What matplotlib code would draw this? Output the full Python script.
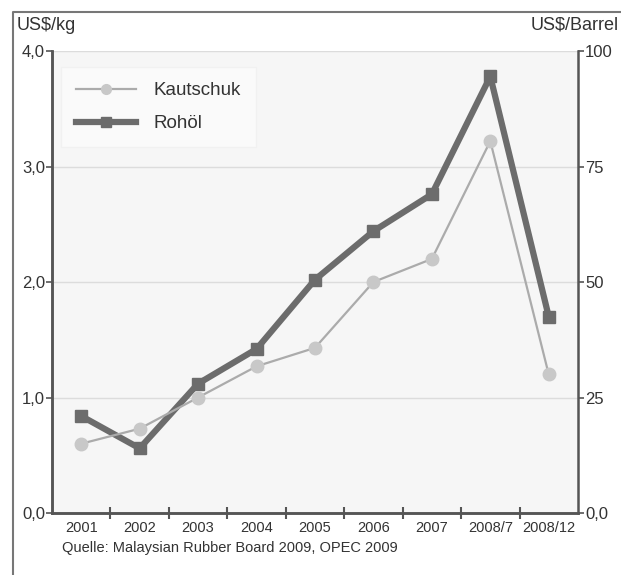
import matplotlib.pyplot as plt
from matplotlib.lines import Line2D

plt.rcParams['font.family'] = ['Liberation Sans', 'DejaVu Sans']

# Daten
jahre = ['2001', '2002', '2003', '2004', '2005', '2006', '2007', '2008/7', '2008/12']
kautschuk = [0.60, 0.73, 1.00, 1.27, 1.43, 2.00, 2.20, 3.22, 1.20]   # US$/kg
rohoel = [21.0, 14.0, 28.0, 35.5, 50.5, 61.0, 69.0, 94.5, 42.5]      # US$/Barrel
links_ticks = [0, 1, 2, 3, 4]
links_labels = ['0,0', '1,0', '2,0', '3,0', '4,0']
rechts_ticks = [0, 25, 50, 75, 100]
rechts_labels = ['0,0', '25', '50', '75', '100']

c_kau = '#ababab'
c_kau_m = '#c8c8c8'
c_roh = '#6c6c6c'
c_axis = '#555555'
c_text = '#333333'

fig = plt.figure(figsize=(6.21, 5.75), dpi=100)
ax = fig.add_axes([0.0837, 0.1078, 0.847, 0.8035])
ax2 = ax.twinx()
ax.set_zorder(ax2.get_zorder() + 1)
ax.patch.set_visible(False)
ax2.patch.set_visible(True)
ax2.set_facecolor('#f6f6f6')

x = list(range(len(jahre)))

ax2.plot(x, rohoel, color=c_roh, lw=4.5, marker='s', ms=8.5, mfc=c_roh, mec=c_roh)
ax.plot(x, kautschuk, color=c_kau, lw=1.6, marker='o', ms=9, mfc=c_kau_m, mec=c_kau_m)

ax.set_ylim(0, 4)
ax2.set_ylim(0, 100)
ax.set_xlim(-0.5, len(jahre) - 0.5)

ax.set_yticks(links_ticks)
ax.set_yticklabels(links_labels)
ax2.set_yticks(rechts_ticks)
ax2.set_yticklabels(rechts_labels)
ax2.grid(axis='y', color='#dcdcdc', lw=1)
ax2.set_axisbelow(True)

# Kategorien mittig, Striche dazwischen
ax.set_xticks([i + 0.5 for i in x[:-1]])
ax.set_xticklabels([])
ax.set_xticks(x, minor=True)
ax.set_xticklabels(jahre, minor=True, fontsize=10.5, color=c_text)
ax.tick_params(axis='x', which='major', direction='inout', length=8, width=1.5, color=c_axis)
ax.tick_params(axis='x', which='minor', length=0, pad=6)

ax.tick_params(axis='y', length=4, width=1.2, color=c_axis, labelsize=12, labelcolor=c_text, pad=1)
ax2.tick_params(axis='y', length=4, width=1.2, color=c_axis, labelsize=12, labelcolor=c_text, pad=1)

for a in (ax, ax2):
    a.spines['top'].set_visible(False)
    for s in ('left', 'right', 'bottom'):
        a.spines[s].set_color(c_axis)
        a.spines[s].set_linewidth(1.8)
ax.spines['right'].set_visible(False)

handles = [
    Line2D([], [], color=c_kau, lw=1.6, marker='o', ms=7, mfc=c_kau_m, mec=c_kau_m),
    Line2D([], [], color=c_roh, lw=4.5, marker='s', ms=7, mfc=c_roh, mec=c_roh),
]
leg = ax.legend(handles, ['Kautschuk', 'Rohöl'], loc='upper left', bbox_to_anchor=(0.0, 0.985),
                fontsize=13.5, frameon=True, fancybox=False, handlelength=3.2,
                labelspacing=0.85, borderpad=0.8, handletextpad=0.9)
leg.get_frame().set_facecolor('#fcfcfc')
leg.get_frame().set_edgecolor('#f0f0f0')
for t in leg.get_texts():
    t.set_color(c_text)

fig.text(17 / 621, 1 - 25 / 575, 'US$/kg', fontsize=13, color=c_text, va='center', ha='left')
fig.text(619 / 621, 1 - 25 / 575, 'US$/Barrel', fontsize=13, color=c_text, va='center', ha='right')
fig.text(62 / 621, 1 - 548 / 575, 'Quelle: Malaysian Rubber Board 2009, OPEC 2009',
         fontsize=10.5, color=c_text, va='center', ha='left')

# Rahmen links und oben
fig.add_artist(Line2D([13 / 621, 13 / 621, 1], [0, 1 - 12 / 575, 1 - 12 / 575],
                      transform=fig.transFigure, color='#777777', lw=1.5))

fig.savefig('out.png', dpi=100)
